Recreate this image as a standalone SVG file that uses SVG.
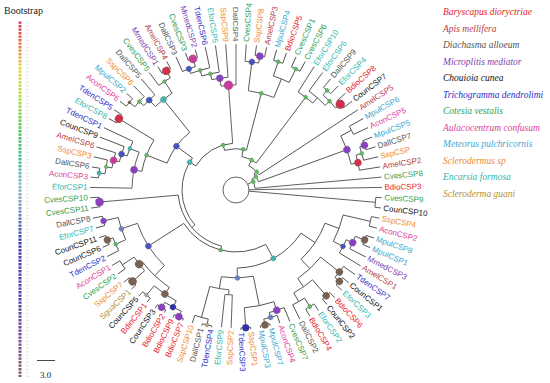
<svg xmlns="http://www.w3.org/2000/svg" width="550" height="383" viewBox="0 0 550 383">
<style>
.e path{stroke:#4a4a4a;stroke-width:0.85;fill:none}
.e circle{stroke:#4a4a4a;stroke-width:0.85;fill:none}
.lab text{font-family:"Liberation Sans",Arial,sans-serif;font-size:8px;dominant-baseline:central}
.lg text{font-family:"Liberation Serif","Times New Roman",serif;font-style:italic;font-size:9.5px}
.bd{fill:#e8202a}.am{fill:#b8404a}.da{fill:#555555}.mm{fill:#7e3fb0}.co{fill:#111111}.td{fill:#2c2cc8}
.cv{fill:#30a050}.ac{fill:#e0409c}.mp{fill:#40a8d0}.ss{fill:#f08a30}.ef{fill:#30b8b0}.sg{fill:#b09040}
.dots circle{stroke:#666;stroke-width:0.3}
.g{fill:#5cbf5c}.t{fill:#40b8b0}.m{fill:#c83c9c}.b{fill:#4454c0}.p{fill:#8a40c0}.r{fill:#d0304c}.w{fill:#7a6050}.n{fill:#3030a8}.s{fill:#a0a8a8}.o{fill:#b0b070}.lb{fill:#7080c8}
</style>
<defs>
<linearGradient id="bs" x1="0" y1="0" x2="0" y2="1">
<stop offset="0" stop-color="#d03858"/><stop offset="0.05" stop-color="#e06040"/><stop offset="0.13" stop-color="#e8d048"/>
<stop offset="0.22" stop-color="#b0d848"/><stop offset="0.31" stop-color="#48c050"/><stop offset="0.40" stop-color="#40b8a0"/>
<stop offset="0.46" stop-color="#80b8c8"/><stop offset="0.52" stop-color="#8090b8"/><stop offset="0.62" stop-color="#3838b0"/>
<stop offset="0.79" stop-color="#5040a8"/><stop offset="0.90" stop-color="#7a4890"/><stop offset="1" stop-color="#806060"/>
</linearGradient>
<pattern id="sq" x="18.5" y="21.5" width="4" height="3.5" patternUnits="userSpaceOnUse"><rect width="3" height="2.4" fill="#fff"/></pattern>
<pattern id="ds" x="26" y="21.5" width="4" height="3.5" patternUnits="userSpaceOnUse"><rect y="0.8" width="2.5" height="0.7" fill="#ccc"/></pattern>
<mask id="mk"><rect x="18" y="21" width="4" height="356" fill="url(#sq)"/></mask>
</defs>
<rect width="550" height="383" fill="#fff"/>
<g id="bootstrap-legend">
<text x="4" y="14" font-family="Liberation Serif,Times New Roman,serif" font-size="10" fill="#222">Bootstrap</text>
<rect x="18" y="21" width="4" height="356" fill="url(#bs)" mask="url(#mk)"/>
<rect x="26" y="21" width="3" height="356" fill="url(#ds)"/>
<path d="M37 360.5H55" stroke="#333" stroke-width="0.9"/>
<text x="40" y="378" font-family="Liberation Serif,Times New Roman,serif" font-size="9" fill="#222">3.0</text>
</g>
<g id="species-legend" class="lg">
<text x="443" y="15" class="bd">Baryscapus dioryctriae</text>
<text x="443" y="31.5" class="am">Apis mellifera</text>
<text x="443" y="48" class="da">Diachasma alloeum</text>
<text x="443" y="64.5" class="mm">Microplitis mediator</text>
<text x="443" y="81" class="co">Chouioia cunea</text>
<text x="443" y="97.5" class="td">Trichogramma dendrolimi</text>
<text x="443" y="114" class="cv">Cotesia vestalis</text>
<text x="443" y="130.5" class="ac">Aulacocentrum confusum</text>
<text x="443" y="147" class="mp">Meteorus pulchricornis</text>
<text x="443" y="163.5" class="ss">Sclerodermus sp</text>
<text x="443" y="180" class="ef">Encarsia formosa</text>
<text x="443" y="196.5" class="sg">Scleroderma guani</text>
</g>
<g id="connectors" class="e" transform="translate(236,190)">
<circle r="13"/>
<path transform="rotate(181)" d="M104 0H146"/><path transform="rotate(185.05)" d="M138 0H146"/><path transform="rotate(189.09)" d="M138 0H146"/><path transform="rotate(193.14)" d="M132 0H146"/><path transform="rotate(197.18)" d="M126 0H146"/><path transform="rotate(201.23)" d="M120 0H146"/><path transform="rotate(205.27)" d="M114 0H146"/><path transform="rotate(209.32)" d="M137 0H146"/><path transform="rotate(213.36)" d="M137 0H146"/><path transform="rotate(217.41)" d="M138 0H146"/><path transform="rotate(221.45)" d="M138 0H146"/><path transform="rotate(225.5)" d="M131 0H146"/><path transform="rotate(229.54)" d="M125 0H146"/><path transform="rotate(233.59)" d="M130 0H146"/><path transform="rotate(237.63)" d="M138 0H146"/><path transform="rotate(241.68)" d="M138 0H146"/><path transform="rotate(245.72)" d="M130 0H146"/><path transform="rotate(249.77)" d="M138 0H146"/><path transform="rotate(253.81)" d="M138 0H146"/><path transform="rotate(257.86)" d="M125 0H146"/><path transform="rotate(261.9)" d="M119 0H146"/><path transform="rotate(265.95)" d="M113 0H146"/><path transform="rotate(269.99)" d="M105 0H146"/><path transform="rotate(274.04)" d="M129 0H146"/><path transform="rotate(278.08)" d="M136 0H146"/><path transform="rotate(282.13)" d="M136 0H146"/><path transform="rotate(286.17)" d="M135 0H146"/><path transform="rotate(290.22)" d="M135 0H146"/><path transform="rotate(294.26)" d="M135 0H146"/><path transform="rotate(298.31)" d="M135 0H146"/><path transform="rotate(302.35)" d="M116 0H146"/><path transform="rotate(306.4)" d="M123 0H146"/><path transform="rotate(310.44)" d="M135 0H146"/><path transform="rotate(314.49)" d="M135 0H146"/><path transform="rotate(318.53)" d="M135 0H146"/><path transform="rotate(322.58)" d="M135 0H146"/><path transform="rotate(326.62)" d="M27.6 0H146"/><path transform="rotate(330.67)" d="M130 0H146"/><path transform="rotate(334.71)" d="M130 0H146"/><path transform="rotate(338.76)" d="M136 0H146"/><path transform="rotate(342.8)" d="M136 0H146"/><path transform="rotate(346.85)" d="M131 0H146"/><path transform="rotate(350.89)" d="M125 0H146"/><path transform="rotate(354.94)" d="M19.2 0H146"/><path transform="rotate(358.98)" d="M13 0H146"/><path transform="rotate(3.03)" d="M140 0H146"/><path transform="rotate(7.07)" d="M140 0H146"/><path transform="rotate(11.12)" d="M138 0H146"/><path transform="rotate(15.16)" d="M138 0H146"/><path transform="rotate(19.21)" d="M138 0H146"/><path transform="rotate(23.25)" d="M138 0H146"/><path transform="rotate(27.3)" d="M128 0H146"/><path transform="rotate(31.34)" d="M121 0H146"/><path transform="rotate(35.39)" d="M132 0H146"/><path transform="rotate(39.43)" d="M138 0H146"/><path transform="rotate(43.48)" d="M138 0H146"/><path transform="rotate(47.52)" d="M139 0H146"/><path transform="rotate(51.57)" d="M139 0H146"/><path transform="rotate(55.61)" d="M138 0H146"/><path transform="rotate(59.66)" d="M138 0H146"/><path transform="rotate(63.7)" d="M128 0H144"/><path transform="rotate(67.75)" d="M127 0H142"/><path transform="rotate(71.79)" d="M132 0H140"/><path transform="rotate(75.84)" d="M138 0H140"/><path transform="rotate(79.88)" d="M138 0H140"/><path transform="rotate(83.93)" d="M138 0H140"/><path transform="rotate(87.97)" d="M138 0H140"/><path transform="rotate(92.02)" d="M105 0H138"/><path transform="rotate(96.06)" d="M105 0H138"/><path transform="rotate(100.11)" d="M138 0H139.5"/><path transform="rotate(104.15)" d="M138 0H140"/><path transform="rotate(108.2)" d="M132 0H140"/><path transform="rotate(112.24)" d="M139 0H141"/><path transform="rotate(116.29)" d="M139 0H142"/><path transform="rotate(120.33)" d="M139 0H142"/><path transform="rotate(124.38)" d="M139 0H143"/><path transform="rotate(128.42)" d="M138 0H143"/><path transform="rotate(132.47)" d="M138 0H144"/><path transform="rotate(136.51)" d="M138 0H144"/><path transform="rotate(140.56)" d="M138 0H145"/><path transform="rotate(144.6)" d="M136 0H145"/><path transform="rotate(148.65)" d="M136 0H145"/><path transform="rotate(152.69)" d="M132 0H145"/><path transform="rotate(156.74)" d="M138 0H145"/><path transform="rotate(160.78)" d="M138 0H145"/><path transform="rotate(164.83)" d="M136 0H145"/><path transform="rotate(168.87)" d="M136 0H146"/><path transform="rotate(172.92)" d="M137 0H146"/><path transform="rotate(176.96)" d="M137 0H146"/>
<path transform="rotate(187.07)" d="M132 0H138"/><path transform="rotate(190.1)" d="M126 0H132"/><path transform="rotate(193.64)" d="M120 0H126"/><path transform="rotate(197.4)" d="M114 0H120"/><path transform="rotate(201.3)" d="M104 0H114"/><path transform="rotate(191.2)" d="M96 0H104"/><path transform="rotate(211.34)" d="M96 0H137"/><path transform="rotate(219.43)" d="M131 0H138"/><path transform="rotate(222.47)" d="M125 0H131"/><path transform="rotate(239.66)" d="M130 0H138"/><path transform="rotate(226)" d="M116 0H125"/><path transform="rotate(236.6)" d="M116 0H130"/><path transform="rotate(201.3)" d="M74 0H96"/><path transform="rotate(231.3)" d="M74 0H116"/><path transform="rotate(251.79)" d="M130 0H138"/><path transform="rotate(248.76)" d="M125 0H130"/><path transform="rotate(253.31)" d="M119 0H125"/><path transform="rotate(257.6)" d="M113 0H119"/><path transform="rotate(261.78)" d="M105 0H113"/><path transform="rotate(280.1)" d="M129 0H136"/><path transform="rotate(288.2)" d="M120 0H135"/><path transform="rotate(296.29)" d="M120 0H135"/><path transform="rotate(277.07)" d="M100 0H129"/><path transform="rotate(292.25)" d="M100 0H120"/><path transform="rotate(312.47)" d="M129 0H135"/><path transform="rotate(320.56)" d="M129 0H135"/><path transform="rotate(316.5)" d="M123 0H129"/><path transform="rotate(311.45)" d="M116 0H123"/><path transform="rotate(340.78)" d="M131 0H136"/><path transform="rotate(343.8)" d="M125 0H131"/><path transform="rotate(332.69)" d="M118 0H130"/><path transform="rotate(347.35)" d="M118 0H125"/><path transform="rotate(5.05)" d="M13 0H140"/><path transform="rotate(21.23)" d="M128 0H138"/><path transform="rotate(24.27)" d="M121 0H128"/><path transform="rotate(13.14)" d="M110 0H138"/><path transform="rotate(27.8)" d="M110 0H121"/><path transform="rotate(41.46)" d="M132 0H138"/><path transform="rotate(57.64)" d="M128 0H138"/><path transform="rotate(49.55)" d="M118 0H139"/><path transform="rotate(60.67)" d="M118 0H128"/><path transform="rotate(38.42)" d="M108 0H132"/><path transform="rotate(55.11)" d="M108 0H118"/><path transform="rotate(20.47)" d="M95 0H110"/><path transform="rotate(46.77)" d="M95 0H108"/><path transform="rotate(77.86)" d="M132 0H138"/><path transform="rotate(74.83)" d="M127 0H132"/><path transform="rotate(71.29)" d="M118 0H127"/><path transform="rotate(85.95)" d="M118 0H138"/><path transform="rotate(94.04)" d="M100 0H105"/><path transform="rotate(102.13)" d="M132 0H138"/><path transform="rotate(105.17)" d="M100 0H132"/><path transform="rotate(78.62)" d="M88 0H118"/><path transform="rotate(99.6)" d="M88 0H100"/><path transform="rotate(33.62)" d="M78 0H95"/><path transform="rotate(89.11)" d="M78 0H88"/><path transform="rotate(114.27)" d="M133 0H139"/><path transform="rotate(122.36)" d="M133 0H139"/><path transform="rotate(118.31)" d="M126 0H133"/><path transform="rotate(130.45)" d="M126 0H138"/><path transform="rotate(138.54)" d="M122 0H138"/><path transform="rotate(146.63)" d="M122 0H136"/><path transform="rotate(124.38)" d="M118 0H126"/><path transform="rotate(142.58)" d="M118 0H122"/><path transform="rotate(158.76)" d="M132 0H138"/><path transform="rotate(155.72)" d="M121 0H132"/><path transform="rotate(166.85)" d="M121 0H136"/><path transform="rotate(133.48)" d="M104 0H118"/><path transform="rotate(161.29)" d="M104 0H121"/><path transform="rotate(61.37)" d="M62 0H78"/><path transform="rotate(147.38)" d="M62 0H104"/><path transform="rotate(104.38)" d="M58 0H62"/><path transform="rotate(174.94)" d="M58 0H137"/><path transform="rotate(139.66)" d="M54 0H58"/><path transform="rotate(216.3)" d="M54 0H74"/><path transform="rotate(211)" d="M46.8 0H54"/><path transform="rotate(265.9)" d="M46.8 0H105"/><path transform="rotate(254)" d="M41.3 0H46.8"/><path transform="rotate(284.66)" d="M41.3 0H100"/><path transform="rotate(280)" d="M33.9 0H41.3"/><path transform="rotate(306.9)" d="M33.9 0H116"/><path transform="rotate(297.6)" d="M27.6 0H33.9"/><path transform="rotate(318.5)" d="M24 0H27.6"/><path transform="rotate(340.02)" d="M24 0H118"/><path transform="rotate(326)" d="M19.2 0H24"/><path transform="rotate(334)" d="M13 0H19.2"/>
<circle pathLength="360" r="138" stroke-dasharray="4.04 400" transform="rotate(185.05)"/>
<circle pathLength="360" r="132" stroke-dasharray="6.07 400" transform="rotate(187.07)"/>
<circle pathLength="360" r="126" stroke-dasharray="7.08 400" transform="rotate(190.1)"/>
<circle pathLength="360" r="120" stroke-dasharray="7.59 400" transform="rotate(193.64)"/>
<circle pathLength="360" r="114" stroke-dasharray="7.87 400" transform="rotate(197.4)"/>
<circle pathLength="360" r="104" stroke-dasharray="20.3 400" transform="rotate(181)"/>
<circle pathLength="360" r="137" stroke-dasharray="4.04 400" transform="rotate(209.32)"/>
<circle pathLength="360" r="96" stroke-dasharray="20.14 400" transform="rotate(191.2)"/>
<circle pathLength="360" r="138" stroke-dasharray="4.04 400" transform="rotate(217.41)"/>
<circle pathLength="360" r="131" stroke-dasharray="6.07 400" transform="rotate(219.43)"/>
<circle pathLength="360" r="125" stroke-dasharray="7.07 400" transform="rotate(222.47)"/>
<circle pathLength="360" r="138" stroke-dasharray="4.05 400" transform="rotate(237.63)"/>
<circle pathLength="360" r="130" stroke-dasharray="6.07 400" transform="rotate(233.59)"/>
<circle pathLength="360" r="116" stroke-dasharray="10.6 400" transform="rotate(226)"/>
<circle pathLength="360" r="74" stroke-dasharray="30 400" transform="rotate(201.3)"/>
<circle pathLength="360" r="138" stroke-dasharray="4.04 400" transform="rotate(249.77)"/>
<circle pathLength="360" r="130" stroke-dasharray="6.07 400" transform="rotate(245.72)"/>
<circle pathLength="360" r="125" stroke-dasharray="9.1 400" transform="rotate(248.76)"/>
<circle pathLength="360" r="119" stroke-dasharray="8.59 400" transform="rotate(253.31)"/>
<circle pathLength="360" r="113" stroke-dasharray="8.35 400" transform="rotate(257.6)"/>
<circle pathLength="360" r="105" stroke-dasharray="8.21 400" transform="rotate(261.78)"/>
<circle pathLength="360" r="136" stroke-dasharray="4.05 400" transform="rotate(278.08)"/>
<circle pathLength="360" r="129" stroke-dasharray="6.06 400" transform="rotate(274.04)"/>
<circle pathLength="360" r="135" stroke-dasharray="4.05 400" transform="rotate(286.17)"/>
<circle pathLength="360" r="135" stroke-dasharray="4.05 400" transform="rotate(294.26)"/>
<circle pathLength="360" r="120" stroke-dasharray="8.09 400" transform="rotate(288.2)"/>
<circle pathLength="360" r="100" stroke-dasharray="15.18 400" transform="rotate(277.07)"/>
<circle pathLength="360" r="135" stroke-dasharray="4.05 400" transform="rotate(310.44)"/>
<circle pathLength="360" r="135" stroke-dasharray="4.05 400" transform="rotate(318.53)"/>
<circle pathLength="360" r="129" stroke-dasharray="8.09 400" transform="rotate(312.47)"/>
<circle pathLength="360" r="123" stroke-dasharray="10.1 400" transform="rotate(306.4)"/>
<circle pathLength="360" r="116" stroke-dasharray="9.1 400" transform="rotate(302.35)"/>
<circle pathLength="360" r="130" stroke-dasharray="4.04 400" transform="rotate(330.67)"/>
<circle pathLength="360" r="136" stroke-dasharray="4.04 400" transform="rotate(338.76)"/>
<circle pathLength="360" r="131" stroke-dasharray="6.07 400" transform="rotate(340.78)"/>
<circle pathLength="360" r="125" stroke-dasharray="7.09 400" transform="rotate(343.8)"/>
<circle pathLength="360" r="118" stroke-dasharray="14.66 400" transform="rotate(332.69)"/>
<circle pathLength="360" r="140" stroke-dasharray="4.04 400" transform="rotate(3.03)"/>
<circle pathLength="360" r="138" stroke-dasharray="4.04 400" transform="rotate(11.12)"/>
<circle pathLength="360" r="138" stroke-dasharray="4.04 400" transform="rotate(19.21)"/>
<circle pathLength="360" r="128" stroke-dasharray="6.07 400" transform="rotate(21.23)"/>
<circle pathLength="360" r="121" stroke-dasharray="7.07 400" transform="rotate(24.27)"/>
<circle pathLength="360" r="110" stroke-dasharray="14.66 400" transform="rotate(13.14)"/>
<circle pathLength="360" r="138" stroke-dasharray="4.05 400" transform="rotate(39.43)"/>
<circle pathLength="360" r="132" stroke-dasharray="6.07 400" transform="rotate(35.39)"/>
<circle pathLength="360" r="139" stroke-dasharray="4.05 400" transform="rotate(47.52)"/>
<circle pathLength="360" r="138" stroke-dasharray="4.05 400" transform="rotate(55.61)"/>
<circle pathLength="360" r="128" stroke-dasharray="6.06 400" transform="rotate(57.64)"/>
<circle pathLength="360" r="118" stroke-dasharray="11.12 400" transform="rotate(49.55)"/>
<circle pathLength="360" r="108" stroke-dasharray="16.69 400" transform="rotate(38.42)"/>
<circle pathLength="360" r="95" stroke-dasharray="26.3 400" transform="rotate(20.47)"/>
<circle pathLength="360" r="138" stroke-dasharray="4.04 400" transform="rotate(75.84)"/>
<circle pathLength="360" r="132" stroke-dasharray="6.07 400" transform="rotate(71.79)"/>
<circle pathLength="360" r="127" stroke-dasharray="7.08 400" transform="rotate(67.75)"/>
<circle pathLength="360" r="138" stroke-dasharray="4.04 400" transform="rotate(83.93)"/>
<circle pathLength="360" r="118" stroke-dasharray="14.66 400" transform="rotate(71.29)"/>
<circle pathLength="360" r="105" stroke-dasharray="4.04 400" transform="rotate(92.02)"/>
<circle pathLength="360" r="138" stroke-dasharray="4.04 400" transform="rotate(100.11)"/>
<circle pathLength="360" r="132" stroke-dasharray="6.07 400" transform="rotate(102.13)"/>
<circle pathLength="360" r="100" stroke-dasharray="11.13 400" transform="rotate(94.04)"/>
<circle pathLength="360" r="88" stroke-dasharray="20.98 400" transform="rotate(78.62)"/>
<circle pathLength="360" r="78" stroke-dasharray="55.49 400" transform="rotate(33.62)"/>
<circle pathLength="360" r="139" stroke-dasharray="4.05 400" transform="rotate(112.24)"/>
<circle pathLength="360" r="139" stroke-dasharray="4.05 400" transform="rotate(120.33)"/>
<circle pathLength="360" r="133" stroke-dasharray="8.09 400" transform="rotate(114.27)"/>
<circle pathLength="360" r="138" stroke-dasharray="4.05 400" transform="rotate(128.42)"/>
<circle pathLength="360" r="126" stroke-dasharray="12.14 400" transform="rotate(118.31)"/>
<circle pathLength="360" r="138" stroke-dasharray="4.05 400" transform="rotate(136.51)"/>
<circle pathLength="360" r="136" stroke-dasharray="4.05 400" transform="rotate(144.6)"/>
<circle pathLength="360" r="122" stroke-dasharray="8.09 400" transform="rotate(138.54)"/>
<circle pathLength="360" r="118" stroke-dasharray="18.2 400" transform="rotate(124.38)"/>
<circle pathLength="360" r="138" stroke-dasharray="4.04 400" transform="rotate(156.74)"/>
<circle pathLength="360" r="132" stroke-dasharray="6.07 400" transform="rotate(152.69)"/>
<circle pathLength="360" r="136" stroke-dasharray="4.04 400" transform="rotate(164.83)"/>
<circle pathLength="360" r="121" stroke-dasharray="11.13 400" transform="rotate(155.72)"/>
<circle pathLength="360" r="104" stroke-dasharray="27.81 400" transform="rotate(133.48)"/>
<circle pathLength="360" r="62" stroke-dasharray="86.01 400" transform="rotate(61.37)"/>
<circle pathLength="360" r="137" stroke-dasharray="4.04 400" transform="rotate(172.92)"/>
<circle pathLength="360" r="58" stroke-dasharray="70.56 400" transform="rotate(104.38)"/>
<circle pathLength="360" r="54" stroke-dasharray="76.64 400" transform="rotate(139.66)"/>
<circle pathLength="360" r="46.8" stroke-dasharray="54.9 400" transform="rotate(211)"/>
<circle pathLength="360" r="41.3" stroke-dasharray="30.66 400" transform="rotate(254)"/>
<circle pathLength="360" r="33.9" stroke-dasharray="26.9 400" transform="rotate(280)"/>
<circle pathLength="360" r="27.6" stroke-dasharray="29.02 400" transform="rotate(297.6)"/>
<circle pathLength="360" r="24" stroke-dasharray="21.52 400" transform="rotate(318.5)"/>
<circle pathLength="360" r="19.2" stroke-dasharray="28.94 400" transform="rotate(326)"/>
</g>
<g id="bootstrap-dots" class="dots" transform="translate(236,190)">
<circle class="t" cx="138" r="2.2" transform="rotate(187.07)"/><circle class="g" cx="132" r="1.8" transform="rotate(190.1)"/><circle class="m" cx="126" r="3.5" transform="rotate(193.64)"/><circle class="b" cx="120" r="3" transform="rotate(197.4)"/><circle class="t" cx="114" r="2" transform="rotate(201.3)"/><circle class="p" cx="104" r="3.5" transform="rotate(191.2)"/><circle class="g" cx="96" r="2" transform="rotate(201.3)"/><circle class="r" cx="137" r="4" transform="rotate(211.34)"/>
<circle class="w" cx="138" r="1.6" transform="rotate(219.43)"/><circle class="g" cx="131" r="2" transform="rotate(222.47)"/><circle class="b" cx="125" r="3" transform="rotate(226)"/><circle class="t" cx="116" r="3" transform="rotate(231.3)"/><circle class="r" cx="138" r="4" transform="rotate(239.66)"/><circle class="g" cx="130" r="1.8" transform="rotate(236.6)"/>
<circle class="m" cx="138" r="4" transform="rotate(251.79)"/><circle class="b" cx="130" r="2.8" transform="rotate(248.76)"/><circle class="g" cx="125" r="2" transform="rotate(253.31)"/><circle class="g" cx="119" r="2" transform="rotate(257.6)"/><circle class="p" cx="113" r="3.5" transform="rotate(261.78)"/><circle class="m" cx="105" r="4.5" transform="rotate(265.9)"/>
<circle class="p" cx="136" r="3.5" transform="rotate(280.1)"/><circle class="b" cx="129" r="3" transform="rotate(277.07)"/><circle class="g" cx="135" r="2" transform="rotate(288.2)"/><circle class="g" cx="135" r="2" transform="rotate(296.29)"/><circle class="g" cx="100" r="2" transform="rotate(284.66)"/>
<circle class="g" cx="135" r="2" transform="rotate(312.47)"/><circle class="g" cx="129" r="2" transform="rotate(316.5)"/><circle class="r" cx="135" r="4.5" transform="rotate(320.56)"/><circle class="g" cx="116" r="2" transform="rotate(306.9)"/>
<circle class="p" cx="136" r="3.5" transform="rotate(340.78)"/><circle class="g" cx="131" r="2" transform="rotate(343.8)"/><circle class="r" cx="125" r="3.5" transform="rotate(347.35)"/><circle class="p" cx="118" r="3.5" transform="rotate(340.02)"/>
<circle class="w" cx="138" r="3.5" transform="rotate(21.23)"/><circle class="p" cx="128" r="3.5" transform="rotate(24.27)"/><circle class="b" cx="121" r="2.5" transform="rotate(27.8)"/>
<circle class="w" cx="138" r="3.5" transform="rotate(41.46)"/><circle class="w" cx="132" r="3.5" transform="rotate(38.42)"/><circle class="w" cx="139" r="3.5" transform="rotate(49.55)"/><circle class="g" cx="138" r="2" transform="rotate(57.64)"/>
<circle class="w" cx="138" r="3.5" transform="rotate(77.86)"/><circle class="lb" cx="132" r="2.5" transform="rotate(74.83)"/><circle class="p" cx="127" r="3.5" transform="rotate(71.29)"/><circle class="n" cx="138" r="3.5" transform="rotate(85.95)"/>
<circle class="o" cx="138" r="2" transform="rotate(102.13)"/>
<circle class="p" cx="139" r="3.5" transform="rotate(114.27)"/><circle class="p" cx="139" r="3.5" transform="rotate(122.36)"/><circle class="n" cx="133" r="3" transform="rotate(118.31)"/><circle class="w" cx="126" r="3.5" transform="rotate(124.38)"/><circle class="s" cx="138" r="2" transform="rotate(130.45)"/>
<circle class="w" cx="122" r="4" transform="rotate(142.58)"/><circle class="w" cx="138" r="4" transform="rotate(138.54)"/>
<circle class="w" cx="138" r="3.5" transform="rotate(158.76)"/><circle class="g" cx="132" r="2" transform="rotate(155.72)"/><circle class="p" cx="136" r="3" transform="rotate(166.85)"/><circle class="lb" cx="121" r="2.5" transform="rotate(161.29)"/>
<circle class="b" cx="104" r="3" transform="rotate(147.38)"/><circle class="p" cx="137" r="4" transform="rotate(174.94)"/>
<circle class="g" cx="62" r="2" transform="rotate(104.38)"/><circle class="t" cx="78" r="2.5" transform="rotate(61.37)"/><circle class="lb" cx="88" r="2.5" transform="rotate(89.11)"/>
<circle class="g" cx="19.2" r="2" transform="rotate(334)"/><circle class="g" cx="24" r="2" transform="rotate(326)"/><circle class="g" cx="27.6" r="2" transform="rotate(318.5)"/><circle class="g" cx="33.9" r="2" transform="rotate(297.6)"/><circle class="g" cx="41.3" r="2" transform="rotate(280)"/><circle class="g" cx="46.8" r="2" transform="rotate(254)"/><circle class="t" cx="54" r="2.5" transform="rotate(211)"/><circle class="b" cx="74" r="3" transform="rotate(216.3)"/>
</g>
<g id="leaves" class="lab" transform="translate(236,190)">
<g id="n1"><text class="ef" transform="rotate(1)" x="-148.5" text-anchor="end">EforCSP1</text></g>
<g id="n2"><text class="ac" transform="rotate(5.05)" x="-148.5" text-anchor="end">AconCSP3</text></g>
<g id="n3"><text class="da" transform="rotate(9.09)" x="-148.5" text-anchor="end">DallCSP6</text></g>
<g id="n4"><text class="ss" transform="rotate(13.14)" x="-148.5" text-anchor="end">SspCSP3</text></g>
<g id="n5"><text class="am" transform="rotate(17.18)" x="-148.5" text-anchor="end">AmelCSP6</text></g>
<g id="n6"><text class="co" transform="rotate(21.23)" x="-148.5" text-anchor="end">CounCSP9</text></g>
<g id="n7"><text class="td" transform="rotate(25.27)" x="-148.5" text-anchor="end">TdenCSP1</text></g>
<g id="n8"><text class="ef" transform="rotate(29.32)" x="-148.5" text-anchor="end">EforCSP8</text></g>
<g id="n9"><text class="td" transform="rotate(33.36)" x="-148.5" text-anchor="end">TdenCSP5</text></g>
<g id="n10"><text class="ac" transform="rotate(37.41)" x="-148.5" text-anchor="end">AconCSP6</text></g>
<g id="n11"><text class="mp" transform="rotate(41.45)" x="-148.5" text-anchor="end">MpulCSP2</text></g>
<g id="n12"><text class="ss" transform="rotate(45.5)" x="-148.5" text-anchor="end">SspCSP6</text></g>
<g id="n13"><text class="da" transform="rotate(49.54)" x="-148.5" text-anchor="end">DallCSP5</text></g>
<g id="n14"><text class="cv" transform="rotate(53.59)" x="-148.5" text-anchor="end">CvesCSP5</text></g>
<g id="n15"><text class="mm" transform="rotate(57.63)" x="-148.5" text-anchor="end">MmedCSP1</text></g>
<g id="n16"><text class="am" transform="rotate(61.68)" x="-148.5" text-anchor="end">AmelCSP4</text></g>
<g id="n17"><text class="da" transform="rotate(65.72)" x="-148.5" text-anchor="end">DallCSP3</text></g>
<g id="n18"><text class="cv" transform="rotate(69.77)" x="-148.5" text-anchor="end">CvesCSP3</text></g>
<g id="n19"><text class="mm" transform="rotate(73.81)" x="-148.5" text-anchor="end">MmedCSP2</text></g>
<g id="n20"><text class="td" transform="rotate(77.86)" x="-148.5" text-anchor="end">TdenCSP6</text></g>
<g id="n21"><text class="ef" transform="rotate(81.9)" x="-148.5" text-anchor="end">EforCSP5</text></g>
<g id="n22"><text class="ss" transform="rotate(85.95)" x="-148.5" text-anchor="end">SspCSP9</text></g>
<g id="n23"><text class="da" transform="rotate(89.99)" x="-148.5" text-anchor="end">DallCSP4</text></g>
<g id="n24"><text class="cv" transform="rotate(274.04)" x="148.5">CvesCSP4</text></g>
<g id="n25"><text class="ss" transform="rotate(278.08)" x="148.5">SspCSP8</text></g>
<g id="n26"><text class="am" transform="rotate(282.13)" x="148.5">AmelCSP3</text></g>
<g id="n27"><text class="mp" transform="rotate(286.17)" x="148.5">MpulCSP4</text></g>
<g id="n28"><text class="bd" transform="rotate(290.22)" x="148.5">BdioCSP5</text></g>
<g id="n29"><text class="cv" transform="rotate(294.26)" x="148.5">CvesCSP1</text></g>
<g id="n30"><text class="cv" transform="rotate(298.31)" x="148.5">CvesCSP6</text></g>
<g id="n31"><text class="ef" transform="rotate(302.35)" x="148.5">EforCSP10</text></g>
<g id="n32"><text class="ef" transform="rotate(306.4)" x="148.5">EforCSP6</text></g>
<g id="n33"><text class="da" transform="rotate(310.44)" x="148.5">DallCSP9</text></g>
<g id="n34"><text class="ef" transform="rotate(314.49)" x="148.5">EforCSP4</text></g>
<g id="n35"><text class="bd" transform="rotate(318.53)" x="148.5">BdioCSP8</text></g>
<g id="n36"><text class="co" transform="rotate(322.58)" x="148.5">CounCSP7</text></g>
<g id="n37"><text class="am" transform="rotate(326.62)" x="148.5">AmelCSP5</text></g>
<g id="n38"><text class="mp" transform="rotate(330.67)" x="148.5">MpulCSP6</text></g>
<g id="n39"><text class="ac" transform="rotate(334.71)" x="148.5">AconCSP5</text></g>
<g id="n40"><text class="mp" transform="rotate(338.76)" x="148.5">MpulCSP5</text></g>
<g id="n41"><text class="da" transform="rotate(342.8)" x="148.5">DallCSP7</text></g>
<g id="n42"><text class="ss" transform="rotate(346.85)" x="148.5">SspCSP</text></g>
<g id="n43"><text class="am" transform="rotate(350.89)" x="148.5">AmelCSP2</text></g>
<g id="n44"><text class="cv" transform="rotate(354.94)" x="148.5">CvesCSP8</text></g>
<g id="n45"><text class="bd" transform="rotate(358.98)" x="148.5">BdioCSP3</text></g>
<g id="n46"><text class="cv" transform="rotate(3.03)" x="148.5">CvesCSP9</text></g>
<g id="n47"><text class="co" transform="rotate(7.07)" x="148.5">CounCSP10</text></g>
<g id="n48"><text class="ss" transform="rotate(11.12)" x="148.5">SspCSP4</text></g>
<g id="n49"><text class="ac" transform="rotate(15.16)" x="148.5">AconCSP2</text></g>
<g id="n50"><text class="mp" transform="rotate(19.21)" x="148.5">MpulCSP8</text></g>
<g id="n51"><text class="mp" transform="rotate(23.25)" x="148.5">MpulCSP1</text></g>
<g id="n52"><text class="mm" transform="rotate(27.3)" x="148.5">MmedCSP3</text></g>
<g id="n53"><text class="am" transform="rotate(31.34)" x="148.5">AmelCSP1</text></g>
<g id="n54"><text class="td" transform="rotate(35.39)" x="148.5">TdenCSP7</text></g>
<g id="n55"><text class="co" transform="rotate(39.43)" x="148.5">CounCSP1</text></g>
<g id="n56"><text class="ef" transform="rotate(43.48)" x="148.5">EforCSP3</text></g>
<g id="n57"><text class="bd" transform="rotate(47.52)" x="148.5">BdioCSP6</text></g>
<g id="n58"><text class="co" transform="rotate(51.57)" x="148.5">CounCSP2</text></g>
<g id="n59"><text class="ef" transform="rotate(55.61)" x="148.5">EforCSP2</text></g>
<g id="n60"><text class="bd" transform="rotate(59.66)" x="148.5">BdioCSP4</text></g>
<g id="n61"><text class="da" transform="rotate(63.7)" x="146.5">DallCSP2</text></g>
<g id="n62"><text class="cv" transform="rotate(67.75)" x="144.5">CvesCSP7</text></g>
<g id="n63"><text class="ac" transform="rotate(71.79)" x="142.5">AconCSP4</text></g>
<g id="n64"><text class="mp" transform="rotate(75.84)" x="142.5">MpulCSP7</text></g>
<g id="n65"><text class="mp" transform="rotate(79.88)" x="142.5">MpulCSP3</text></g>
<g id="n66"><text class="ss" transform="rotate(83.93)" x="142.5">SspCSP1</text></g>
<g id="n67"><text class="td" transform="rotate(87.97)" x="142.5">TdenCSP3</text></g>
<g id="n68"><text class="ss" transform="rotate(-87.98)" x="-140.5" text-anchor="end">SspCSP2</text></g>
<g id="n69"><text class="ef" transform="rotate(-83.94)" x="-140.5" text-anchor="end">EforCSP9</text></g>
<g id="n70"><text class="td" transform="rotate(-79.89)" x="-141.5" text-anchor="end">TdenCSP4</text></g>
<g id="n71"><text class="da" transform="rotate(-75.85)" x="-142.5" text-anchor="end">DallCSP1</text></g>
<g id="n72"><text class="ss" transform="rotate(-71.8)" x="-142.5" text-anchor="end">SspCSP10</text></g>
<g id="n73"><text class="bd" transform="rotate(-67.76)" x="-143.5" text-anchor="end">BdioCSP7</text></g>
<g id="n74"><text class="bd" transform="rotate(-63.71)" x="-144.5" text-anchor="end">BdioCSP9</text></g>
<g id="n75"><text class="bd" transform="rotate(-59.67)" x="-144.5" text-anchor="end">BdioCSP2</text></g>
<g id="n76"><text class="co" transform="rotate(-55.62)" x="-145.5" text-anchor="end">CounCSP3</text></g>
<g id="n77"><text class="bd" transform="rotate(-51.58)" x="-145.5" text-anchor="end">BdioCSP1</text></g>
<g id="n78"><text class="co" transform="rotate(-47.53)" x="-146.5" text-anchor="end">CounCSP5</text></g>
<g id="n79"><text class="sg" transform="rotate(-43.49)" x="-146.5" text-anchor="end">SguaCSP1</text></g>
<g id="n80"><text class="ss" transform="rotate(-39.44)" x="-147.5" text-anchor="end">SspCSP7</text></g>
<g id="n81"><text class="cv" transform="rotate(-35.4)" x="-147.5" text-anchor="end">CvesCSP2</text></g>
<g id="n82"><text class="ac" transform="rotate(-31.35)" x="-147.5" text-anchor="end">AconCSP1</text></g>
<g id="n83"><text class="td" transform="rotate(-27.31)" x="-147.5" text-anchor="end">TdenCSP2</text></g>
<g id="n84"><text class="co" transform="rotate(-23.26)" x="-147.5" text-anchor="end">CounCSP6</text></g>
<g id="n85"><text class="co" transform="rotate(-19.22)" x="-147.5" text-anchor="end">CounCSP11</text></g>
<g id="n86"><text class="ef" transform="rotate(-15.17)" x="-147.5" text-anchor="end">EforCSP7</text></g>
<g id="n87"><text class="da" transform="rotate(-11.13)" x="-148.5" text-anchor="end">DallCSP8</text></g>
<g id="n88"><text class="cv" transform="rotate(-7.08)" x="-148.5" text-anchor="end">CvesCSP11</text></g>
<g id="n89"><text class="cv" transform="rotate(-3.04)" x="-148.5" text-anchor="end">CvesCSP10</text></g>
</g>
</svg>
